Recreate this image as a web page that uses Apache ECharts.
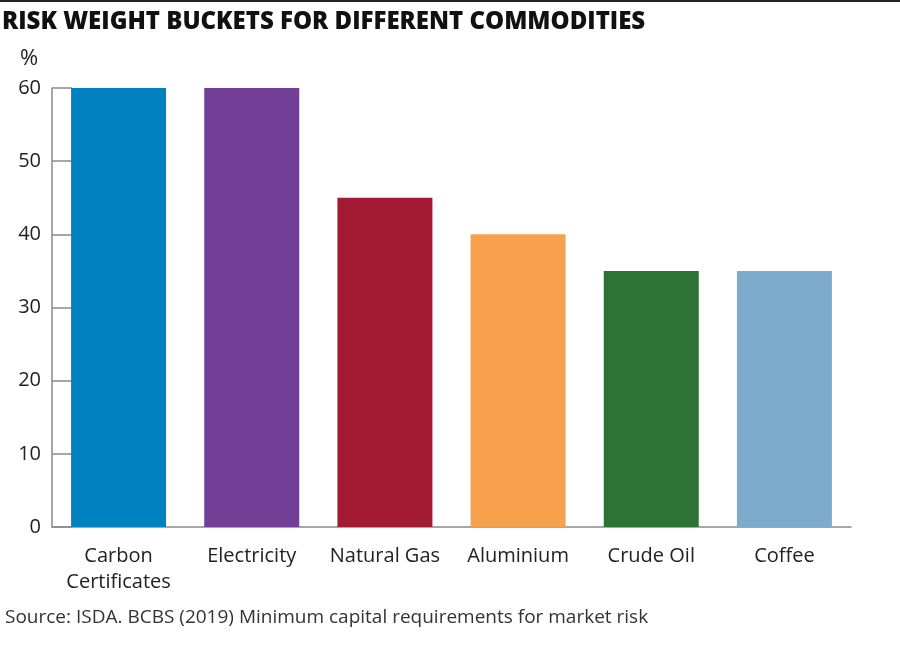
<!DOCTYPE html>
<html><head><meta charset="utf-8">
<script src="https://cdn.jsdelivr.net/npm/echarts@6/dist/echarts.min.js"></script>
<style>html,body{margin:0;padding:0;background:#fff}#c{width:900px;height:655px}</style>
</head><body><div id="c"></div>
<script>
const categories = ['Carbon\nCertificates', 'Electricity', 'Natural Gas', 'Aluminium', 'Crude Oil', 'Coffee'];
const values = [60, 60, 45, 40, 35, 35];
const colors = ['#0081C0', '#733F96', '#A31A33', '#F7A14C', '#2D7335', '#7DABCE'];
const yTicks = [0, 10, 20, 30, 40, 50, 60];

const chart = echarts.init(document.getElementById('c'));
const font = '"Open Sans", "Noto Sans", sans-serif';
chart.setOption({
  animation: false,
  backgroundColor: '#fff',
  textStyle: { fontFamily: font },
  title: [{
    text: 'RISK WEIGHT BUCKETS FOR DIFFERENT COMMODITIES',
    left: -3, top: 5,
    textStyle: { fontFamily: font, fontWeight: 800, fontSize: 24, color: '#111' }
  }, {
    text: 'Source: ISDA. BCBS (2019) Minimum capital requirements for market risk',
    left: 0, top: 603,
    textStyle: { fontFamily: font, fontWeight: 'normal', fontSize: 19, color: '#333' }
  }, {
    text: '%',
    left: 15, top: 43,
    textStyle: { fontFamily: font, fontWeight: 'normal', fontSize: 22, color: '#222' }
  }],
  graphic: [{
    type: 'rect', shape: { x: 0, y: 0, width: 900, height: 2 },
    style: { fill: '#222' }
  }],
  grid: { left: 52, right: 49, top: 88, bottom: 128, containLabel: false },
  xAxis: {
    type: 'category',
    data: categories,
    axisLine: { lineStyle: { color: '#8a8a8a', width: 1.5 } },
    axisTick: { show: false },
    axisLabel: { color: '#222', fontSize: 20, fontFamily: font, margin: 16, lineHeight: 26, interval: 0 }
  },
  yAxis: {
    type: 'value',
    min: 0, max: 60, interval: 10,
    axisLine: { show: true, lineStyle: { color: '#8a8a8a', width: 1.5 } },
    axisTick: { show: true, inside: true, length: 20, lineStyle: { color: '#8a8a8a', width: 1.5 } },
    splitLine: { show: false },
    axisLabel: {
      color: '#222', fontSize: 20, fontFamily: font, margin: 11,
      formatter: v => yTicks.includes(v) ? String(v) : ''
    }
  },
  series: [{
    type: 'bar',
    barWidth: 95,
    data: values.map((v, i) => ({ value: v, itemStyle: { color: colors[i] } })),
    z: 3
  }]
});
</script></body></html>
